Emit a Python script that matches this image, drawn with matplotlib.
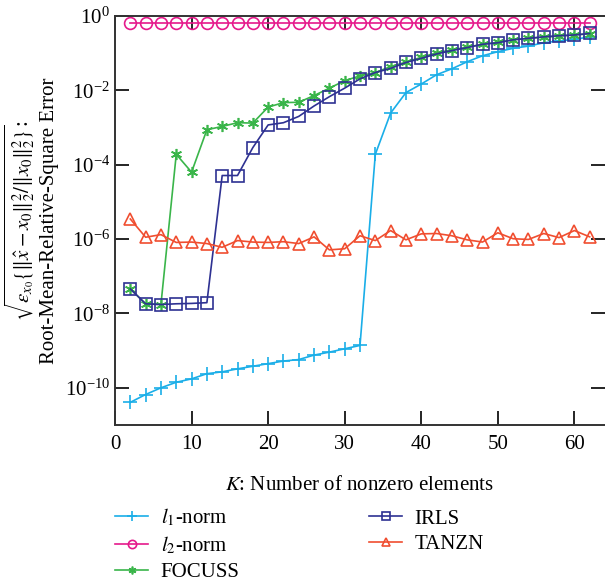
import numpy as np
import matplotlib
matplotlib.use("Agg")
import matplotlib.pyplot as plt

plt.rcParams['font.family'] = ['Liberation Serif', 'DejaVu Serif']
plt.rcParams['mathtext.fontset'] = 'stix'

# sparsity levels
K = list(range(2, 64, 2))

# log10 of the error
l1_log = [-10.39, -10.18, -10.00, -9.85, -9.76, -9.62, -9.57, -9.49, -9.42, -9.35,
          -9.28, -9.24, -9.12, -9.04, -8.95, -8.86, -3.72, -2.61, -2.06, -1.83,
          -1.58, -1.42, -1.23, -1.07, -0.96, -0.87, -0.81, -0.72, -0.67, -0.63, -0.56]
l2_log = [-0.18] * 31
focuss_log = [-7.34, -7.74, -7.76, -3.72, -4.20, -3.06, -2.97, -2.87, -2.88, -2.45,
              -2.33, -2.32, -2.14, -1.94, -1.74, -1.61, -1.52, -1.36, -1.24, -1.11,
              -0.99, -0.91, -0.84, -0.76, -0.71, -0.64, -0.60, -0.57, -0.54, -0.51, -0.48]
irls_log = [-7.34, -7.74, -7.76, -7.74, -7.73, -7.71, -4.29, -4.29, -3.54, -2.93,
            -2.87, -2.70, -2.42, -2.17, -1.94, -1.69, -1.52, -1.41, -1.25, -1.14,
            -1.02, -0.93, -0.85, -0.76, -0.72, -0.64, -0.60, -0.56, -0.53, -0.51, -0.47]
tanzn_log = [-5.46, -5.95, -5.88, -6.09, -6.08, -6.12, -6.22, -6.04, -6.08, -6.09,
             -6.07, -6.12, -5.94, -6.29, -6.26, -5.91, -6.04, -5.77, -6.02, -5.86,
             -5.85, -5.91, -6.02, -6.08, -5.83, -5.99, -6.01, -5.85, -5.96, -5.77, -5.94]

fig = plt.figure(figsize=(6.05, 5.86), dpi=100)
ax = fig.add_axes([115 / 605, 1 - 425 / 586, 1 - 115 / 605, (425 - 16) / 586])

ax.plot(K, 10 ** np.array(l1_log), color='#1aaee8', marker='+', ms=10, mew=1.2, lw=1.2,
        label='$l_1$-norm')
ax.plot(K, 10 ** np.array(l2_log), color='#e5198b', marker='o', ms=8.5, mfc='none', mew=1.2,
        lw=1.2, label='$l_2$-norm')
ax.plot(K, 10 ** np.array(focuss_log), color='#3ab54a', marker=(6, 2, 0), ms=8, mew=1.2,
        lw=1.2, label='FOCUSS')
ax.plot(K, 10 ** np.array(irls_log), color='#2e3192', marker='s', ms=9, mfc='none', mew=1.2,
        lw=1.2, label='IRLS')
ax.plot(K, 10 ** np.array(tanzn_log), color='#f04e30', marker='^', ms=8, mfc='none', mew=1.2,
        lw=1.2, label='TANZN')

ax.set_yscale('log')
ax.set_ylim(1e-11, 1)
ax.set_xlim(0, 64)
ax.set_yticks([1e0, 1e-2, 1e-4, 1e-6, 1e-8, 1e-10])
ax.set_xticks([0, 10, 20, 30, 40, 50, 60])
ax.minorticks_off()
ax.tick_params(direction='in', top=True, right=True, length=10, width=1.2, labelsize=15)
ax.tick_params(axis='x', pad=7)
for s in ax.spines.values():
    s.set_linewidth(1.4)
    s.set_color('#333333')
ax.spines['right'].set_visible(False)

ax.set_xlabel('$K$: Number of nonzero elements', fontsize=15, labelpad=16)
ax.set_ylabel('$\\sqrt{\\varepsilon_{x_0}\\{\\|\\hat{x}-x_0\\|_2^2/\\|x_0\\|_2^2\\}}$:\n'
              'Root-Mean-Relative-Square Error', fontsize=15, labelpad=4)

ax.legend(loc='upper left', bbox_to_anchor=(0, -0.2), ncol=2, frameon=False,
          fontsize=15, handlelength=1.6, handletextpad=0.6, columnspacing=6.2,
          labelspacing=0.3, borderpad=0, borderaxespad=0, markerscale=0.7)

fig.savefig('out.png', dpi=100)
